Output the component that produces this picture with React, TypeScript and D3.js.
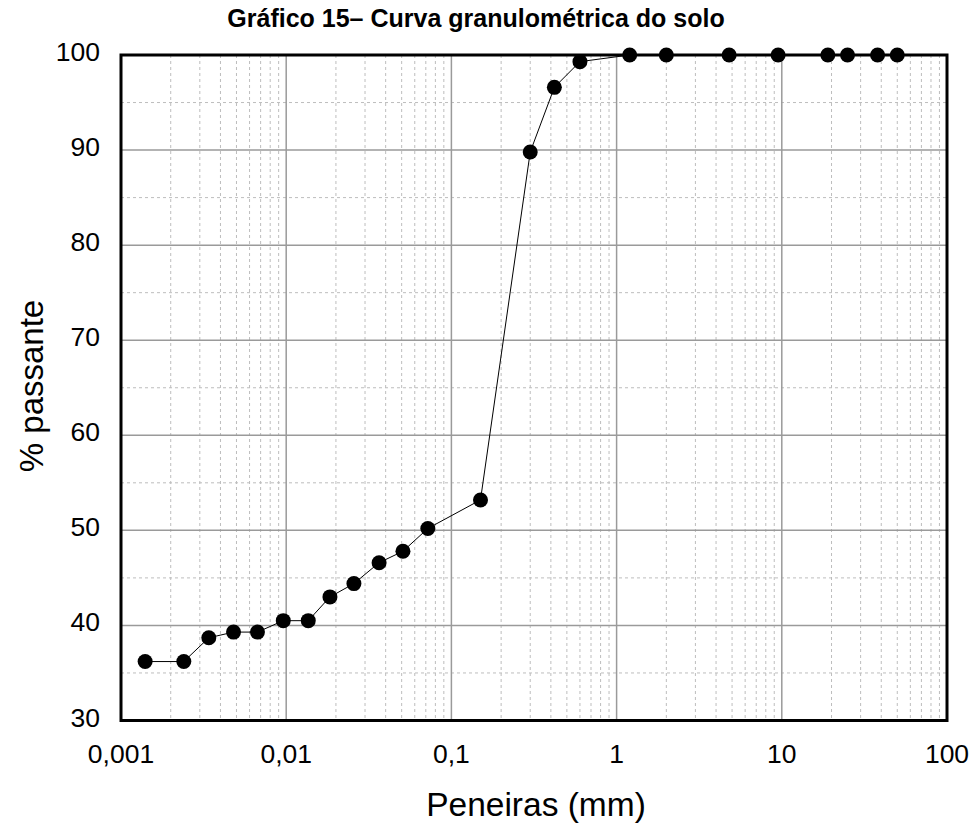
import React from "react";
import * as d3 from "d3";

// Sieve openings (mm) and percent passing
const diameters = [
  0.0014, 0.0024, 0.0034, 0.0048, 0.0067, 0.0096, 0.0136, 0.0184, 0.0257, 0.0365,
  0.0509, 0.072, 0.15, 0.3, 0.42, 0.6, 1.2, 2.0, 4.8, 9.5, 19, 25, 38, 50,
];
const passing = [
  36.2, 36.2, 38.7, 39.3, 39.3, 40.5, 40.5, 43.0, 44.4, 46.6,
  47.8, 50.2, 53.2, 89.8, 96.6, 99.3, 100, 100, 100, 100, 100, 100, 100, 100,
];
const xTicks = [0.001, 0.01, 0.1, 1, 10, 100];
const xTickLabels = ["0,001", "0,01", "0,1", "1", "10", "100"];
const yTicks = [30, 40, 50, 60, 70, 80, 90, 100];

const W = 973;
const H = 825;
const left = 121;
const right = 947;
const top = 55;
const bottom = 720.5;

export default function App() {
  const x = d3.scaleLog().domain([0.001, 100]).range([left, right]);
  const y = d3.scaleLinear().domain([30, 100]).range([bottom, top]);

  const minorX: number[] = [];
  for (let e = -3; e < 2; e++) {
    for (let m = 2; m <= 9; m++) minorX.push(m * Math.pow(10, e));
  }
  const minorY = d3.range(35, 100, 10);

  const pts = diameters.map((d, i) => [x(d), y(passing[i])] as [number, number]);
  const line = d3.line()(pts) || "";

  const font = "Arial, 'Liberation Sans', sans-serif";

  return (
    <svg
      width={W}
      height={H}
      style={{ position: "absolute", left: 0, top: 0, background: "#fff" }}
      fontFamily={font}
    >
      <rect x={0} y={0} width={W} height={H} fill="#fff" />
      <text x={476} y={27} textAnchor="middle" fontSize={25} fontWeight="bold" fill="#000">
        Gráfico 15– Curva granulométrica do solo
      </text>

      {/* minor grid */}
      {minorX.map((v, i) => (
        <line key={"mx" + i} x1={x(v)} x2={x(v)} y1={top} y2={bottom}
          stroke="#bdbdbd" strokeWidth={1} strokeDasharray="3,3" />
      ))}
      {minorY.map((v, i) => (
        <line key={"my" + i} x1={left} x2={right} y1={y(v)} y2={y(v)}
          stroke="#bdbdbd" strokeWidth={1} strokeDasharray="3,3" />
      ))}

      {/* major grid */}
      {xTicks.map((v, i) => (
        <line key={"gx" + i} x1={x(v)} x2={x(v)} y1={top} y2={bottom}
          stroke="#9a9a9a" strokeWidth={1.5} />
      ))}
      {yTicks.map((v, i) => (
        <line key={"gy" + i} x1={left} x2={right} y1={y(v)} y2={y(v)}
          stroke="#9a9a9a" strokeWidth={1.5} />
      ))}

      {/* frame */}
      <rect x={left} y={top} width={right - left} height={bottom - top}
        fill="none" stroke="#000" strokeWidth={3} />

      {/* curve */}
      <path d={line} fill="none" stroke="#000" strokeWidth={1} />
      {pts.map((p, i) => (
        <circle key={"p" + i} cx={p[0]} cy={p[1]} r={7.5} fill="#000" />
      ))}

      {/* tick labels */}
      {yTicks.map((v, i) => (
        <text key={"ty" + i} x={100} y={y(v) + 6} textAnchor="end" fontSize={26.5} fill="#000">
          {v}
        </text>
      ))}
      {xTicks.map((v, i) => (
        <text key={"tx" + i} x={x(v)} y={763} textAnchor="middle" fontSize={26.5} fill="#000">
          {xTickLabels[i]}
        </text>
      ))}

      {/* axis titles */}
      <text x={536} y={816} textAnchor="middle" fontSize={33.5} fill="#000">
        Peneiras (mm)
      </text>
      <text transform={`translate(43,386) rotate(-90)`} textAnchor="middle"
        fontSize={33} fill="#000">
        % passante
      </text>
    </svg>
  );
}
